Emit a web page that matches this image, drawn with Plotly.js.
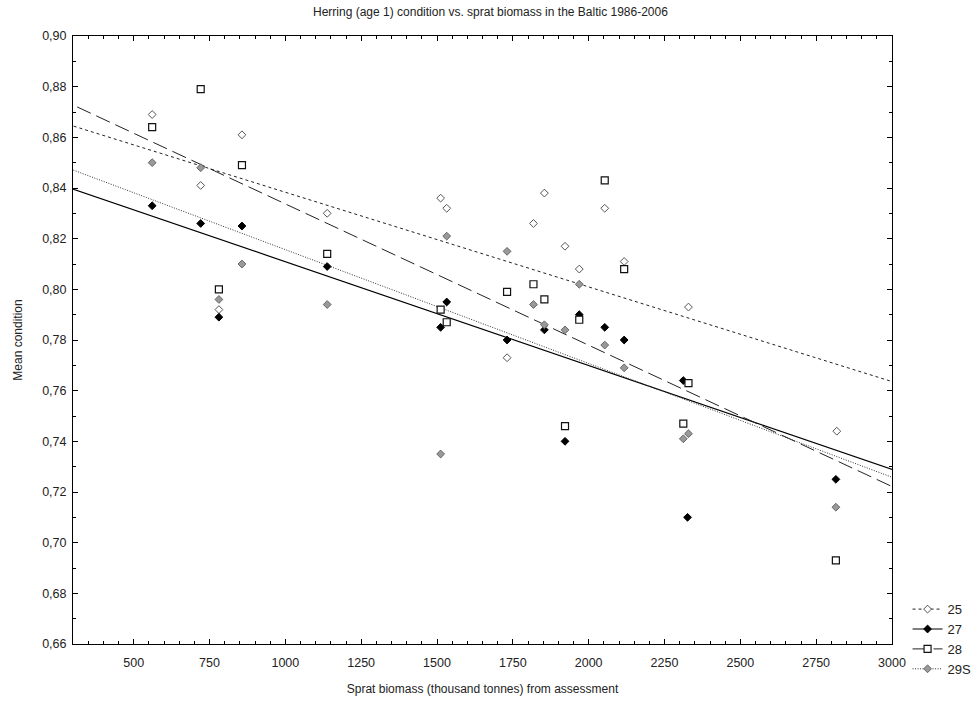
<!DOCTYPE html>
<html>
<head>
<meta charset="utf-8">
<script src="https://cdn.plot.ly/plotly-3.0.1.min.js"></script>
<style>html,body{margin:0;padding:0;background:#fff;}#chart{width:977px;height:702px;}</style>
</head>
<body>
<div id="chart"></div>
<script>
// Series names
const seriesNames = ["25", "27", "28", "29S"];

// Sprat biomass (x) and mean condition (y) per series
const x25 = [561, 721, 781, 857, 1138, 1512, 1532, 1731, 1818, 1854, 1922, 1969, 2053, 2117, 2329, 2818];
const y25 = [0.869, 0.841, 0.792, 0.861, 0.830, 0.836, 0.832, 0.773, 0.826, 0.838, 0.817, 0.808, 0.832, 0.811, 0.793, 0.744];

const x27 = [561, 721, 781, 857, 1138, 1512, 1532, 1731, 1854, 1922, 1969, 2053, 2117, 2312, 2326, 2815];
const y27 = [0.833, 0.826, 0.789, 0.825, 0.809, 0.785, 0.795, 0.780, 0.784, 0.740, 0.790, 0.785, 0.780, 0.764, 0.710, 0.725];

const x28 = [561, 721, 781, 857, 1138, 1512, 1532, 1731, 1818, 1854, 1922, 1969, 2053, 2117, 2312, 2329, 2815];
const y28 = [0.864, 0.879, 0.800, 0.849, 0.814, 0.792, 0.787, 0.799, 0.802, 0.796, 0.746, 0.788, 0.843, 0.808, 0.747, 0.763, 0.693];

const x29 = [561, 721, 781, 857, 1138, 1512, 1532, 1731, 1818, 1854, 1922, 1969, 2053, 2117, 2312, 2329, 2815];
const y29 = [0.850, 0.848, 0.796, 0.810, 0.794, 0.735, 0.821, 0.815, 0.794, 0.786, 0.784, 0.802, 0.778, 0.769, 0.741, 0.743, 0.714];

// Linear fit coefficients (y = intercept + slope * x)
const fitIntercept = [0.8757, 0.8519, 0.8895, 0.8606];
const fitSlope = [-3.737e-5, -4.10e-5, -5.578e-5, -4.493e-5];

// Axis ranges
const xRange = [300, 3000];
const yRange = [0.66, 0.90];

const xs = [x25, x27, x28, x29];
const ys = [y25, y27, y28, y29];

const markerStyles = [
  {symbol: "diamond", size: 6, color: "#ffffff", line: {color: "#555555", width: 1}},
  {symbol: "diamond", size: 6, color: "#000000", line: {color: "#000000", width: 1}},
  {symbol: "square", size: 7, color: "#ffffff", line: {color: "#111111", width: 1.2}},
  {symbol: "diamond", size: 6, color: "#999999", line: {color: "#666666", width: 1}}
];
const lineStyles = [
  {color: "#222222", width: 1, dash: "3px,3px"},
  {color: "#000000", width: 1.2, dash: "solid"},
  {color: "#222222", width: 1, dash: "15px,6px"},
  {color: "#333333", width: 1, dash: "1px,1.5px"}
];

const traces = [];
// fit lines (extended past the axis range so only the line is visible; clipped by the axes)
const pad = 300;
for (let i = 0; i < 4; i++) {
  const lx = [xRange[0] - pad, xRange[1] + pad];
  const ly = lx.map(v => fitIntercept[i] + fitSlope[i] * v);
  traces.push({
    type: "scatter", mode: "lines+markers", x: lx, y: ly,
    name: seriesNames[i], line: lineStyles[i], marker: markerStyles[i],
    cliponaxis: true, hoverinfo: "skip", showlegend: true
  });
}
for (let i = 0; i < 4; i++) {
  traces.push({
    type: "scatter", mode: "markers", x: xs[i], y: ys[i],
    name: seriesNames[i], marker: markerStyles[i], showlegend: false
  });
}

const fontFam = "Liberation Sans, Arial, sans-serif";
const layout = {
  width: 977, height: 702,
  margin: {l: 73, r: 85, t: 36, b: 58, autoexpand: false},
  paper_bgcolor: "#ffffff", plot_bgcolor: "#ffffff",
  separators: ",.",
  font: {family: fontFam, size: 12, color: "#222222"},
  title: {text: "Herring (age 1) condition vs. sprat biomass in the Baltic 1986-2006",
          font: {family: fontFam, size: 12, color: "#222222"},
          x: 0.502, xref: "container", xanchor: "center", y: 1 - 12 / 702, yref: "container", yanchor: "middle"},
  xaxis: {
    range: xRange, tick0: 0, dtick: 250, tickformat: "d",
    ticks: "inside", ticklen: 5, tickcolor: "#000", tickwidth: 1,
    minor: {dtick: 50, ticks: "inside", ticklen: 3, tickcolor: "#000", showgrid: false},
    showline: true, linecolor: "#000", linewidth: 1, mirror: "ticks",
    showgrid: false, zeroline: false, automargin: false,
    ticklabelstandoff: 7,
    tickfont: {family: fontFam, size: 12.5, color: "#222"},
    title: {text: "Sprat biomass (thousand tonnes) from assessment", standoff: 15,
            font: {family: fontFam, size: 12, color: "#222"}}
  },
  yaxis: {
    range: yRange, tick0: 0, dtick: 0.02, tickformat: ".2f",
    ticks: "inside", ticklen: 5, tickcolor: "#000", tickwidth: 1,
    minor: {dtick: 0.01, ticks: "inside", ticklen: 3, tickcolor: "#000", showgrid: false},
    showline: true, linecolor: "#000", linewidth: 1, mirror: "ticks",
    showgrid: false, zeroline: false, automargin: false,
    ticklabelstandoff: 3,
    tickfont: {family: fontFam, size: 12.5, color: "#222"},
    title: {text: "Mean condition", standoff: 16,
            font: {family: fontFam, size: 12, color: "#222"}}
  },
  legend: {
    x: 1.019, xanchor: "left", y: 0.082, yanchor: "top",
    bgcolor: "rgba(0,0,0,0)", borderwidth: 0,
    font: {family: fontFam, size: 13, color: "#222"},
    tracegroupgap: 0
  },
  showlegend: true
};

Plotly.newPlot("chart", traces, layout, {displayModeBar: false, staticPlot: true});
</script>
</body>
</html>
